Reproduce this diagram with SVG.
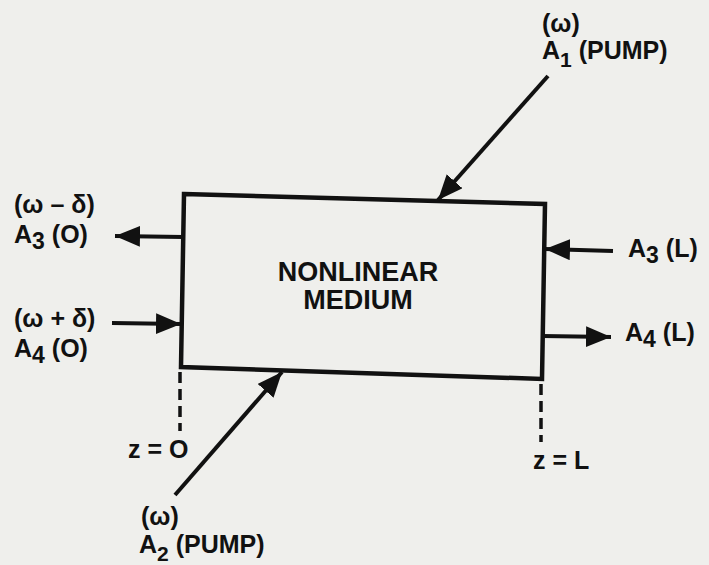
<svg xmlns="http://www.w3.org/2000/svg" width="709" height="565" viewBox="0 0 709 565">
<style>
.t{font-family:"Liberation Sans",Arial,sans-serif;font-weight:bold;font-size:25px;fill:#111}
.c{font-family:"Liberation Sans",Arial,sans-serif;font-weight:bold;font-size:27px;fill:#111}
.ln{stroke:#111;stroke-width:4;fill:none}
.dash{stroke:#111;stroke-width:3.5;fill:none;stroke-dasharray:11 6}
</style>
<defs>
<marker id="ah" markerUnits="userSpaceOnUse" markerWidth="28" markerHeight="22" refX="25" refY="10.5" orient="auto">
<path d="M0,0 L25,10.5 L0,21 Z" fill="#111"/>
</marker>
</defs>
<rect width="709" height="565" fill="#efefec"/>
<g id="medium">
<polygon points="184,194 545,204 542,379 181,367" fill="#efefec" stroke="#111" stroke-width="4.5"/>
<text class="c" x="358" y="281" text-anchor="middle">NONLINEAR</text>
<text class="c" x="358" y="309" text-anchor="middle">MEDIUM</text>
</g>
<g id="connectors">
<line class="ln" x1="548" y1="76" x2="438" y2="200" marker-end="url(#ah)"/>
<line class="ln" x1="175" y1="495" x2="282" y2="372" marker-end="url(#ah)"/>
<line class="ln" x1="183" y1="237" x2="115" y2="236" marker-end="url(#ah)"/>
<line class="ln" x1="112" y1="323" x2="181" y2="324" marker-end="url(#ah)"/>
<line class="ln" x1="613" y1="251" x2="545" y2="249" marker-end="url(#ah)"/>
<line class="ln" x1="542" y1="336" x2="611" y2="337" marker-end="url(#ah)"/>
<line class="dash" x1="180" y1="372" x2="180" y2="431"/>
<line class="dash" x1="541" y1="384" x2="541" y2="442"/>
</g>
<g id="a1">
<text class="t" x="542" y="32">(ω)</text>
<text class="t" x="542" y="59">A<tspan font-size="21" dy="8">1</tspan><tspan dy="-8"> (PUMP)</tspan></text>
</g>
<g id="a2">
<text class="t" x="141" y="525">(ω)</text>
<text class="t" x="139" y="553">A<tspan font-size="21" dy="8">2</tspan><tspan dy="-8"> (PUMP)</tspan></text>
</g>
<g id="a3o">
<text class="t" x="14" y="213">(ω – δ)</text>
<text class="t" x="14" y="243">A<tspan font-size="23" dy="6">3</tspan><tspan dy="-6"> (O)</tspan></text>
</g>
<g id="a4o">
<text class="t" x="14" y="327">(ω + δ)</text>
<text class="t" x="14" y="357">A<tspan font-size="23" dy="6">4</tspan><tspan dy="-6"> (O)</tspan></text>
</g>
<g id="a3l">
<text class="t" x="628" y="257">A<tspan font-size="23" dy="6">3</tspan><tspan dy="-6"> (L)</tspan></text>
</g>
<g id="a4l">
<text class="t" x="625" y="341">A<tspan font-size="23" dy="6">4</tspan><tspan dy="-6"> (L)</tspan></text>
</g>
<g id="z0">
<text class="t" x="128" y="458">z = O</text>
</g>
<g id="zl">
<text class="t" x="533" y="469">z = L</text>
</g>
</svg>
